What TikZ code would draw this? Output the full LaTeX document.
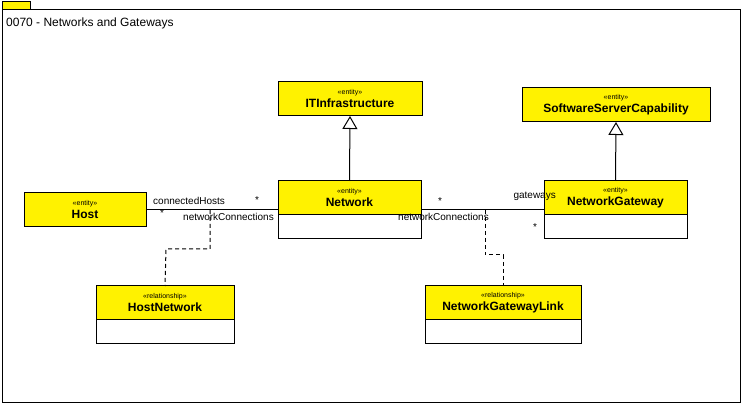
\documentclass[tikz,border=0pt]{standalone}
\usepackage{fontspec}
\setmainfont{Liberation Sans}
\usetikzlibrary{positioning}
\usetikzlibrary{arrows.meta}
\usetikzlibrary{calc}

\newcommand{\umlhead}[2]{{\fontsize{7}{7}\selectfont «#1»}\\[1pt]{\fontsize{12}{13}\selectfont\bfseries #2}}

\begin{document}
\begin{tikzpicture}[x=1pt,y=-1pt,
  head/.style={fill=yellow, draw, line width=1pt, minimum height=34pt, inner sep=0pt, outer sep=0pt, align=center, anchor=north west},
  body/.style={fill=white, draw, line width=1pt, minimum height=24pt, inner sep=0pt, outer sep=0pt},
  lab/.style={font=\fontsize{10}{12}\selectfont, inner sep=0pt},
  gen/.style={-{Triangle[length=13pt,width=15pt,fill=white]}, line width=1pt},
  link/.style={dash pattern=on 4pt off 3pt, line width=1pt}]

\useasboundingbox (0,0) rectangle (742,403);

% frame
\draw[line width=1pt, fill=yellow] (2,2) rectangle (30,10);
\draw[line width=1pt] (2,10) rectangle (740,402);
\node[anchor=base west, inner sep=0pt, font=\fontsize{12}{14}\selectfont] (title) at (6,26.5) {0070 - Networks and Gateways};

\path
(278,82) node[head, minimum width=144pt] (itinf) {\umlhead{entity}{ITInfrastructure}}
(522,88) node[head, minimum width=188pt] (sscap) {\umlhead{entity}{SoftwareServerCapability}}
(24,193) node[head, minimum width=122pt] (host) {\umlhead{entity}{Host}}
(278,181) node[head, minimum width=143pt] (net) {\umlhead{entity}{Network}}
(544,181) node[head, minimum width=143pt] (gw) {\umlhead{entity}{NetworkGateway}}
(96,286) node[head, minimum width=138pt] (hostnet) {\umlhead{relationship}{HostNetwork}}
(425,286) node[head, minimum width=156pt] (gwlink) {\umlhead{relationship}{NetworkGatewayLink}};

\node[body, minimum width=143pt, below=0pt of net] (netbody) {};
\node[body, minimum width=143pt, below=0pt of gw] (gwbody) {};
\node[body, minimum width=138pt, below=0pt of hostnet] (hostnetbody) {};
\node[body, minimum width=156pt, below=0pt of gwlink] (gwlinkbody) {};

% generalization
\draw[gen] (net.north) -- (itinf.south);
\draw[gen] (gw.north) -- (sscap.south);

% associations
\draw[line width=1pt] (host.east) -- (host.east -| net.west);
\draw[line width=1pt] (net.east |- host.east) -- (host.east -| gw.west);

\coordinate (hnmid) at (210,210);
\coordinate (gwmid) at (485,210);
\draw[link] (hnmid) |- (166,249) -- (hostnet.north);
\draw[link] (gwmid) |- (503,255) -- (gwlink.north);

\path
(153,204.5) node[lab, anchor=base west] (l1) {connectedHosts}
(257,203.5) node[lab, anchor=base] (s1) {*}
(162,217) node[lab, anchor=base] (s2) {*}
(274,220.5) node[lab, anchor=base east] (l2) {networkConnections}
(440,204.5) node[lab, anchor=base] (s3) {*}
(556,198.5) node[lab, anchor=base east] (l3) {gateways}
(398,220.5) node[lab, anchor=base west] (l4) {networkConnections}
(535,231) node[lab, anchor=base] (s4) {*};

\end{tikzpicture}
\end{document}
